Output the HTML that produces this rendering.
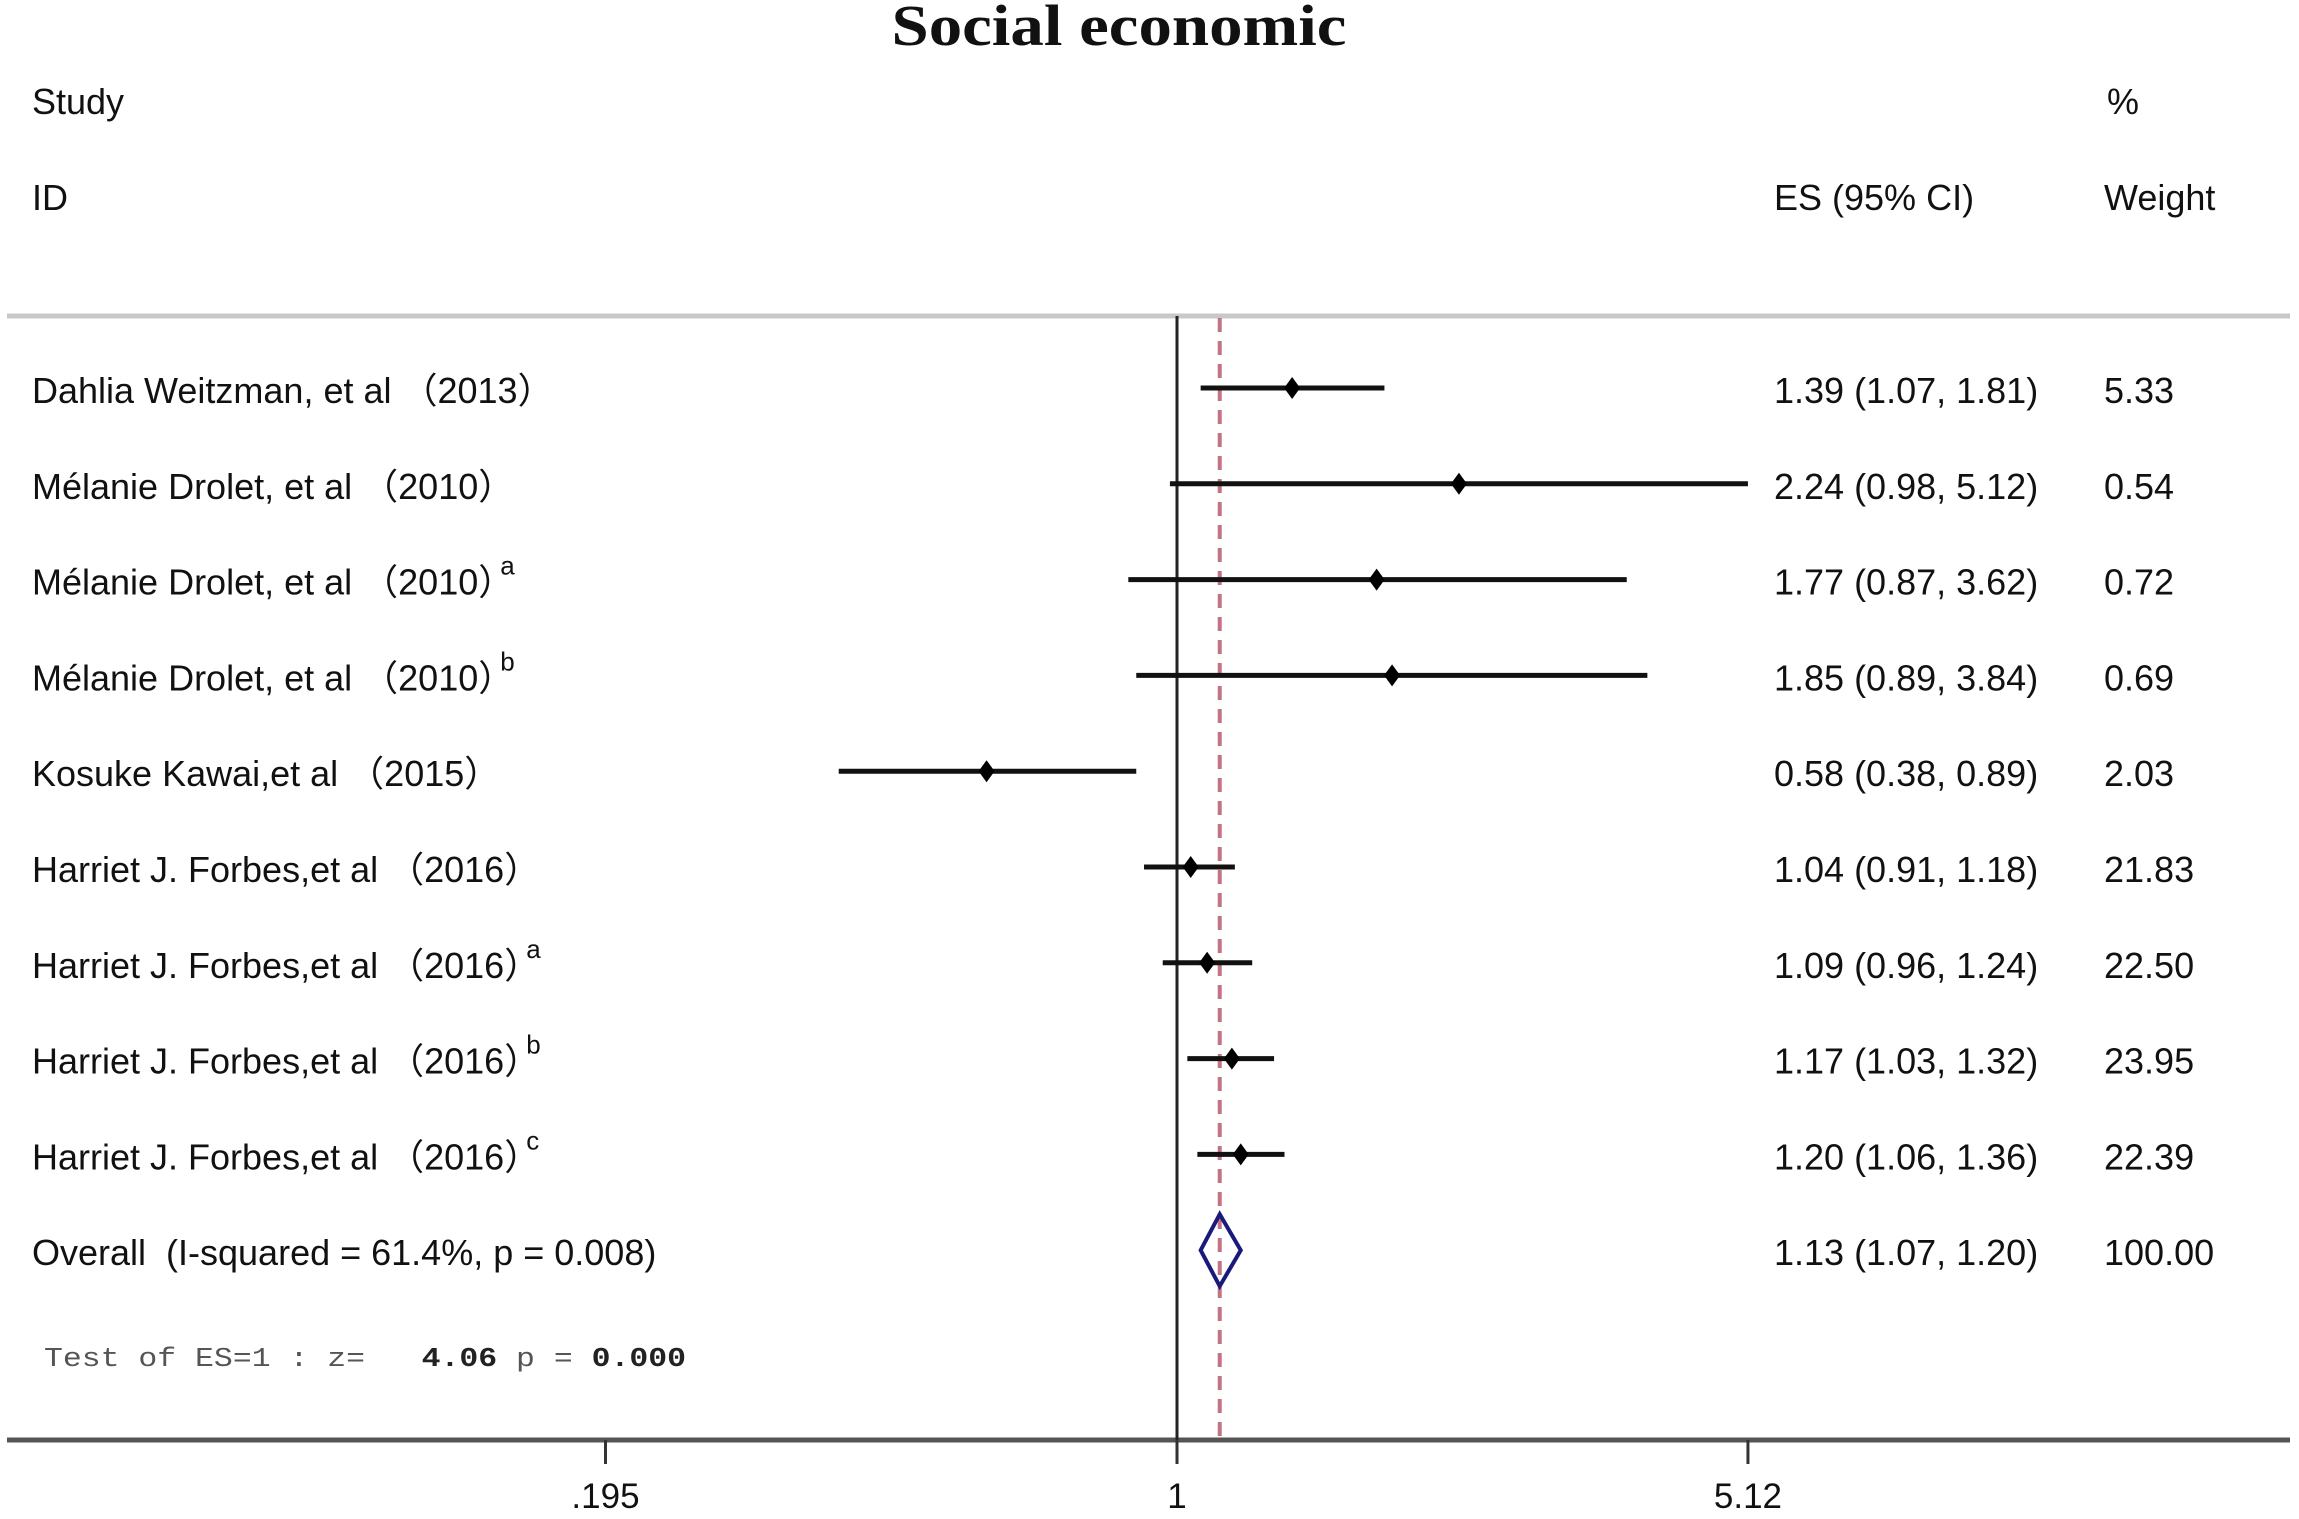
<!DOCTYPE html>
<html><head><meta charset="utf-8"><style>
html,body{margin:0;padding:0;background:#fff;}
svg{display:block;}
text{font-family:"Liberation Sans","Noto Sans CJK SC",sans-serif;fill:#111;white-space:pre;}
</style></head><body>
<svg id="chart" width="2299" height="1519" viewBox="0 0 2299 1519" xmlns="http://www.w3.org/2000/svg" xml:space="preserve">
<text x="1119" y="45" text-anchor="middle" style="font-family:'Liberation Serif',serif;font-weight:bold;font-size:58px" textLength="455" lengthAdjust="spacingAndGlyphs">Social economic</text>
<text x="32" y="114" font-size="36">Study</text>
<text x="32" y="210" font-size="36">ID</text>
<text x="1774" y="210" font-size="36">ES (95% CI)</text>
<text x="2107" y="114" font-size="36">%</text>
<text x="2104" y="210" font-size="36">Weight</text>
<line x1="7" y1="316" x2="2290" y2="316" stroke="#c8c8c8" stroke-width="5"/>
<line x1="7" y1="1440" x2="2290" y2="1440" stroke="#555" stroke-width="5"/>
<g id="marks"></g>
<text x="44" y="1366" style="font-family:'Liberation Mono',monospace;font-size:27px;fill:#555" textLength="642" lengthAdjust="spacingAndGlyphs">Test of ES=1 : z=   <tspan font-weight="bold" fill="#222">4.06</tspan> p = <tspan font-weight="bold" fill="#222">0.000</tspan></text>
</svg>
<script>
const studies = ["Dahlia Weitzman, et al（2013）","Mélanie Drolet, et al（2010）","Mélanie Drolet, et al（2010）","Mélanie Drolet, et al（2010）","Kosuke Kawai,et al（2015）","Harriet J. Forbes,et al（2016）","Harriet J. Forbes,et al（2016）","Harriet J. Forbes,et al（2016）","Harriet J. Forbes,et al（2016）"];
const supers = ["","","a","b","","","a","b","c"];
const es = [1.39,2.24,1.77,1.85,0.58,1.04,1.09,1.17,1.20];
const lo = [1.07,0.98,0.87,0.89,0.38,0.91,0.96,1.03,1.06];
const hi = [1.81,5.12,3.62,3.84,0.89,1.18,1.24,1.32,1.36];
const weights = ["5.33","0.54","0.72","0.69","2.03","21.83","22.50","23.95","22.39"];
const overall = {es:1.13, lo:1.07, hi:1.20, weight:"100.00", label:"Overall  (I-squared = 61.4%, p = 0.008)"};
const ticks = [0.195, 1, 5.12];
const tickLabels = [".195","1","5.12"];

const NS="http://www.w3.org/2000/svg";
const g=document.getElementById('marks');
const x = v => 1177 + Math.log(v)*349.6;
const y = i => 388 + i*95.8;
const fmt = v => v.toFixed(2);
function mk(tag, attrs, parent){const e=document.createElementNS(NS,tag);for(const k in attrs)e.setAttribute(k,attrs[k]);(parent||g).appendChild(e);return e;}
const FS=36;

let e;
e=mk('line',{x1:x(1),y1:316,x2:x(1),y2:1440,stroke:'#222','stroke-width':3});


e=mk('line',{x1:x(overall.es),y1:318,x2:x(overall.es),y2:1438,stroke:'#c27484','stroke-width':4,'stroke-dasharray':'14 9'});



ticks.forEach((t,i)=>{
  const tk=mk('line',{x1:x(t),y1:1440,x2:x(t),y2:1464,stroke:'#333','stroke-width':3});
  
  
  const tl=mk('text',{x:x(t),y:1508,'text-anchor':'middle','font-size':35});
  tl.textContent=tickLabels[i];
  
  
});

studies.forEach((s,i)=>{
  const yy=y(i);
  const ci=mk('line',{x1:x(lo[i]),y1:yy,x2:x(hi[i]),y2:yy,stroke:'#111','stroke-width':5});
  
  
  const cx=x(es[i]);
  const pt=mk('polygon',{points:`${cx},${yy-11} ${cx+8},${yy} ${cx},${yy+11} ${cx-8},${yy}`,fill:'#000'});
  
  
  const lab=mk('text',{x:32,y:yy+15,'font-size':FS});
  lab.textContent=s.replace('（',' （');
  
  
  if(supers[i]){
    const sp=mk('tspan',{'font-size':26,dy:-20,dx:-14},lab);
    sp.textContent=supers[i];
  }
  const est=mk('text',{x:1774,y:yy+15,'font-size':FS});
  est.textContent=`${fmt(es[i])} (${fmt(lo[i])}, ${fmt(hi[i])})`;
  
  
  const w=mk('text',{x:2104,y:yy+15,'font-size':FS});
  w.textContent=weights[i];
  
  
});

const oy=y(9);
const d=mk('polygon',{points:`${x(overall.lo)},${oy} ${x(overall.es)},${oy-36} ${x(overall.hi)},${oy} ${x(overall.es)},${oy+36}`,fill:'none',stroke:'#1a1a7a','stroke-width':4});


e=mk('text',{x:32,y:oy+15,'font-size':FS});
e.textContent=overall.label;


e=mk('text',{x:1774,y:oy+15,'font-size':FS});
e.textContent=`${fmt(overall.es)} (${fmt(overall.lo)}, ${fmt(overall.hi)})`;


e=mk('text',{x:2104,y:oy+15,'font-size':FS});
e.textContent=overall.weight;


</script>
</body></html>
